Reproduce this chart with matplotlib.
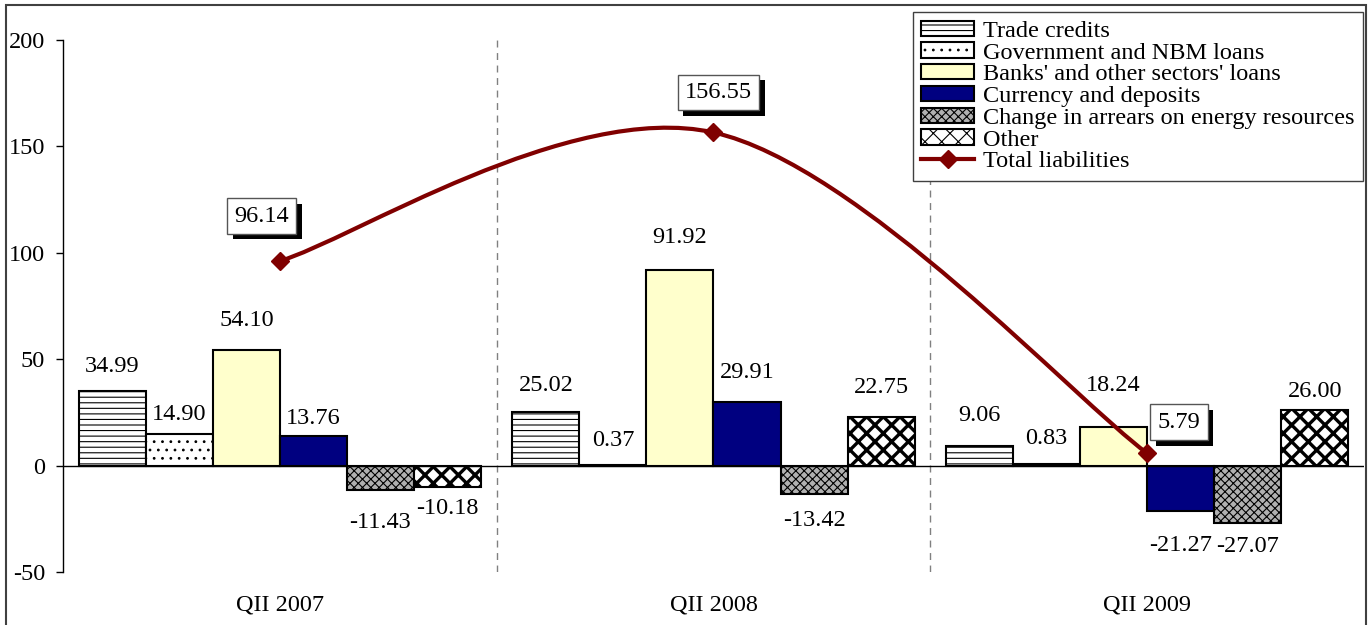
import numpy as np
import matplotlib
matplotlib.use("Agg")
import matplotlib.pyplot as plt
import matplotlib.patheffects as pe
from matplotlib.path import Path
from matplotlib.patches import PathPatch, Rectangle
from matplotlib.lines import Line2D

plt.rcParams['font.family'] = ['Liberation Serif', 'DejaVu Serif']
plt.rcParams['font.size'] = 17.5
plt.rcParams['axes.unicode_minus'] = False

# Data
categories = ["QII 2007", "QII 2008", "QII 2009"]
series_names = ["Trade credits", "Government and NBM loans", "Banks' and other sectors' loans",
                "Currency and deposits", "Change in arrears on energy resources", "Other"]
trade_credits = [34.99, 25.02, 9.06]
gov_nbm_loans = [14.90, 0.37, 0.83]
banks_loans = [54.10, 91.92, 18.24]
currency_deposits = [13.76, 29.91, -21.27]
energy_arrears = [-11.43, -13.42, -27.07]
other = [-10.18, 22.75, 26.00]
total_liabilities = [96.14, 156.55, 5.79]

series_values = [trade_credits, gov_nbm_loans, banks_loans, currency_deposits, energy_arrears, other]

# styles: facecolor, hatch, hatch linewidth
styles = [
    ("white", "---", 0.8),
    ("white", "..", 0.8),
    ("#FFFFCC", None, 0.8),
    ("#000080", None, 0.8),
    ("#b0b0b0", "xxxx", 0.8),
    ("white", "xx", 2.4),
]
# distance (px) between bar end and label centre, per series / group
label_gap_px = [
    [25, 27, 31],
    [19, 24, 25],
    [30, 32, 41],
    [18, 29, 35],
    [33, 26, 23],
    [21, 30, 19],
]
# offsets (px) of the boxed total labels from their points
total_label_px = [(-18, 45), (5, 40), (32, 31)]

W, H = 1369, 625
fig = plt.figure(figsize=(W / 100, H / 100), dpi=100)
ax = fig.add_axes([63 / W, 1 - 572 / H, (1364 - 63) / W, (572 - 40) / H])

x = np.arange(len(categories))
bar_w = 0.1545
px2pt = 0.72

for i, (vals, name) in enumerate(zip(series_values, series_names)):
    fc, hatch, hlw = styles[i]
    plt.rcParams['hatch.linewidth'] = hlw
    bars = ax.bar(x + (i - 2.5) * bar_w, vals, bar_w, color=fc, edgecolor="black",
                  linewidth=1.5, hatch=hatch, label=name, zorder=3)
    for p in bars:
        if hasattr(p, "set_hatch_linewidth"):
            p.set_hatch_linewidth(hlw)
    for j, (b, v) in enumerate(zip(bars, vals)):
        gap = label_gap_px[i][j] * px2pt
        ax.annotate(f"{v:.2f}", xy=(b.get_x() + b.get_width() / 2, v),
                    xytext=(0, gap if v >= 0 else -gap), textcoords="offset points",
                    ha="center", va="center", zorder=5)
plt.rcParams['hatch.linewidth'] = 0.8

# smoothed total line (Bezier through the data points)
pts = np.column_stack([x, total_liabilities]).astype(float)
ext = np.vstack([pts[0], pts, pts[-1]])
verts = [pts[0]]
codes = [Path.MOVETO]
for k in range(len(pts) - 1):
    p0, p1, p2, p3 = ext[k], ext[k + 1], ext[k + 2], ext[k + 3]
    verts += [p1 + (p2 - p0) / 6, p2 - (p3 - p1) / 6, p2]
    codes += [Path.CURVE4] * 3
line_color = "#800000"
ax.add_patch(PathPatch(Path(verts, codes), fill=False, edgecolor=line_color, lw=3, zorder=6))
ax.plot(x, total_liabilities, linestyle="none", marker="D", ms=9, color=line_color, zorder=7)

for k, v in enumerate(total_liabilities):
    dx, dy = total_label_px[k]
    t = ax.annotate(f"{v:.2f}", xy=(x[k], v), xytext=(dx * px2pt, dy * px2pt),
                    textcoords="offset points", ha="center", va="center", zorder=8,
                    bbox=dict(boxstyle="square,pad=0.3", fc="white", ec="#555555", lw=1))
    t.get_bbox_patch().set_path_effects([
        pe.SimplePatchShadow(offset=(4, -4), shadow_rgbFace="black", alpha=1), pe.Normal()])

# axes styling
ax.set_xlim(-0.5, 2.5)
ax.set_ylim(-50, 200)
ax.set_yticks([-50, 0, 50, 100, 150, 200])
ax.set_xticks(x)
ax.set_xticklabels(categories)
ax.tick_params(axis="x", length=0, pad=16)
ax.tick_params(axis="y", direction="out", length=5, width=1, pad=8)
for s in ["top", "right", "bottom"]:
    ax.spines[s].set_visible(False)
ax.spines["left"].set_linewidth(1)
ax.axhline(0, color="black", lw=1, zorder=4)
for sep in [0.5, 1.5]:
    ax.axvline(sep, color="#808080", lw=1, linestyle=(0, (5, 4)), zorder=1)

handles, labels = ax.get_legend_handles_labels()
handles.append(Line2D([], [], color=line_color, lw=3, marker="D", ms=9))
labels.append("Total liabilities")
leg = fig.legend(handles, labels, loc="upper right", bbox_to_anchor=(1363 / W, 1 - 12 / H),
                 borderaxespad=0, frameon=True, fancybox=False, framealpha=1,
                 handlelength=2.2, handleheight=0.6, handletextpad=0.35,
                 labelspacing=0.02, borderpad=0.35)
leg.get_frame().set_edgecolor("#404040")
leg.get_frame().set_linewidth(1)

# outer frame
fig.patches.append(Rectangle((6 / W, -0.01), (1366 - 6) / W, (620 / H) + 0.01,
                             transform=fig.transFigure, fill=False, ec="#404040", lw=1.5))

fig.savefig("out.png", dpi=100)
